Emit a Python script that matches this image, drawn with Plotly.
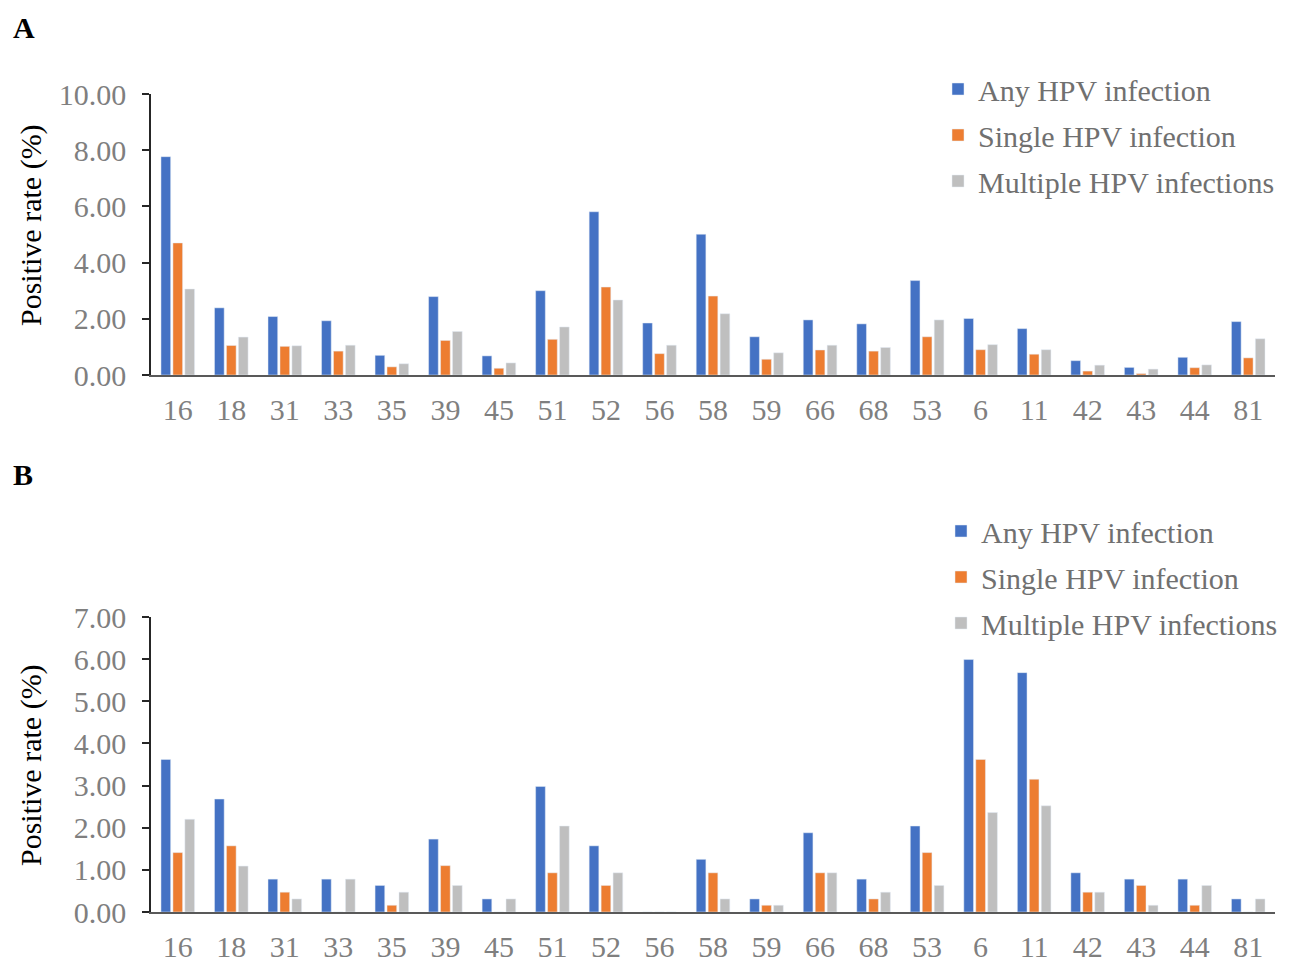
import plotly.graph_objects as go

types = ["16", "18", "31", "33", "35", "39", "45", "51", "52", "56", "58",
         "59", "66", "68", "53", "6", "11", "42", "43", "44", "81"]

a_any = [7.77, 2.39, 2.08, 1.93, 0.70, 2.79, 0.68, 3.00, 5.81, 1.85, 5.01,
         1.36, 1.96, 1.82, 3.36, 2.01, 1.65, 0.51, 0.27, 0.63, 1.90]
a_single = [4.70, 1.05, 1.02, 0.85, 0.29, 1.23, 0.24, 1.27, 3.13, 0.76, 2.81,
            0.56, 0.89, 0.85, 1.36, 0.90, 0.74, 0.14, 0.05, 0.26, 0.61]
a_multi = [3.06, 1.35, 1.04, 1.06, 0.40, 1.55, 0.43, 1.71, 2.67, 1.06, 2.18,
           0.79, 1.06, 0.98, 1.96, 1.08, 0.90, 0.35, 0.21, 0.36, 1.29]

b_any = [3.62, 2.68, 0.78, 0.78, 0.63, 1.73, 0.31, 2.98, 1.57, 0.00, 1.25,
         0.31, 1.88, 0.78, 2.04, 5.99, 5.68, 0.93, 0.78, 0.78, 0.31]
b_single = [1.41, 1.57, 0.47, 0.00, 0.16, 1.10, 0.00, 0.93, 0.63, 0.00, 0.93,
            0.16, 0.93, 0.31, 1.41, 3.62, 3.15, 0.47, 0.63, 0.16, 0.00]
b_multi = [2.20, 1.09, 0.31, 0.78, 0.47, 0.63, 0.31, 2.04, 0.93, 0.00, 0.31,
           0.16, 0.93, 0.47, 0.63, 2.36, 2.52, 0.47, 0.16, 0.63, 0.31]

names = ["Any HPV infection", "Single HPV infection", "Multiple HPV infections"]
colors = ["#4472C4", "#ED7D31", "#BFBFBF"]

W, H = 1303, 963
FONT = "Liberation Serif"
TICK_COLOR = "#7F7F7F"
LEG_COLOR = "#707070"

fig = go.Figure()

for i, (vals, name) in enumerate(zip([a_any, a_single, a_multi], names)):
    fig.add_trace(go.Bar(x=types, y=vals, name=name, marker_color=colors[i],
                         xaxis="x", yaxis="y", legend="legend",
                         legendgroup="a%d" % i))
for i, (vals, name) in enumerate(zip([b_any, b_single, b_multi], names)):
    fig.add_trace(go.Bar(x=types, y=vals, name=name, marker_color=colors[i],
                         xaxis="x2", yaxis="y2", legend="legend2",
                         legendgroup="b%d" % i))

x0, x1 = 151 / W, 1275 / W
ya = [1 - 375 / H, 1 - 94 / H]
yb = [1 - 912 / H, 1 - 617 / H]

xcommon = dict(type="category", showline=True, linecolor="#595959", linewidth=2,
               ticks="", showgrid=False, zeroline=False, automargin=False,
               tickfont=dict(family=FONT, size=30, color=TICK_COLOR),
               ticklabelstandoff=7, domain=[x0, x1])
ycommon = dict(showline=True, linecolor="#262626", linewidth=1.5,
               ticks="outside", ticklen=7, tickcolor="#262626", tickwidth=1.5,
               showgrid=False, zeroline=False, tickformat=".2f", automargin=False,
               tickfont=dict(family=FONT, size=30, color=TICK_COLOR),
               ticklabelstandoff=10)

legcommon = dict(font=dict(family=FONT, size=30, color=LEG_COLOR),
                 xanchor="left", yanchor="top", bgcolor="rgba(0,0,0,0)",
                 tracegroupgap=4, itemwidth=30)

fig.update_layout(
    width=W, height=H,
    margin=dict(l=0, r=0, t=0, b=0, autoexpand=False),
    paper_bgcolor="white", plot_bgcolor="white",
    barmode="group", bargap=0.33, bargroupgap=0.19,
    xaxis=dict(**xcommon, anchor="y"),
    yaxis=dict(**ycommon, domain=ya, range=[0, 10], dtick=2, anchor="x"),
    xaxis2=dict(**xcommon, anchor="y2"),
    yaxis2=dict(**ycommon, domain=yb, range=[0, 7], dtick=1, anchor="x2"),
    legend=dict(**legcommon, x=938 / W, y=1 - 63 / H),
    legend2=dict(**legcommon, x=941 / W, y=1 - 505 / H),
    showlegend=True,
)

ann = []
for txt, yc in [("Positive rate (%)", 225), ("Positive rate (%)", 765)]:
    ann.append(dict(text=txt, x=31 / W, y=1 - yc / H, xref="paper", yref="paper",
                    showarrow=False, textangle=-90, xanchor="center", yanchor="middle",
                    font=dict(family=FONT, size=30, color="black")))
for txt, yc in [("A", 27), ("B", 474)]:
    ann.append(dict(text="<b>%s</b>" % txt, x=11 / W, y=1 - yc / H, xref="paper",
                    yref="paper", showarrow=False, xanchor="left", yanchor="middle",
                    font=dict(family=FONT, size=30, color="black")))
fig.update_layout(annotations=ann)

fig.write_html("out.html")
